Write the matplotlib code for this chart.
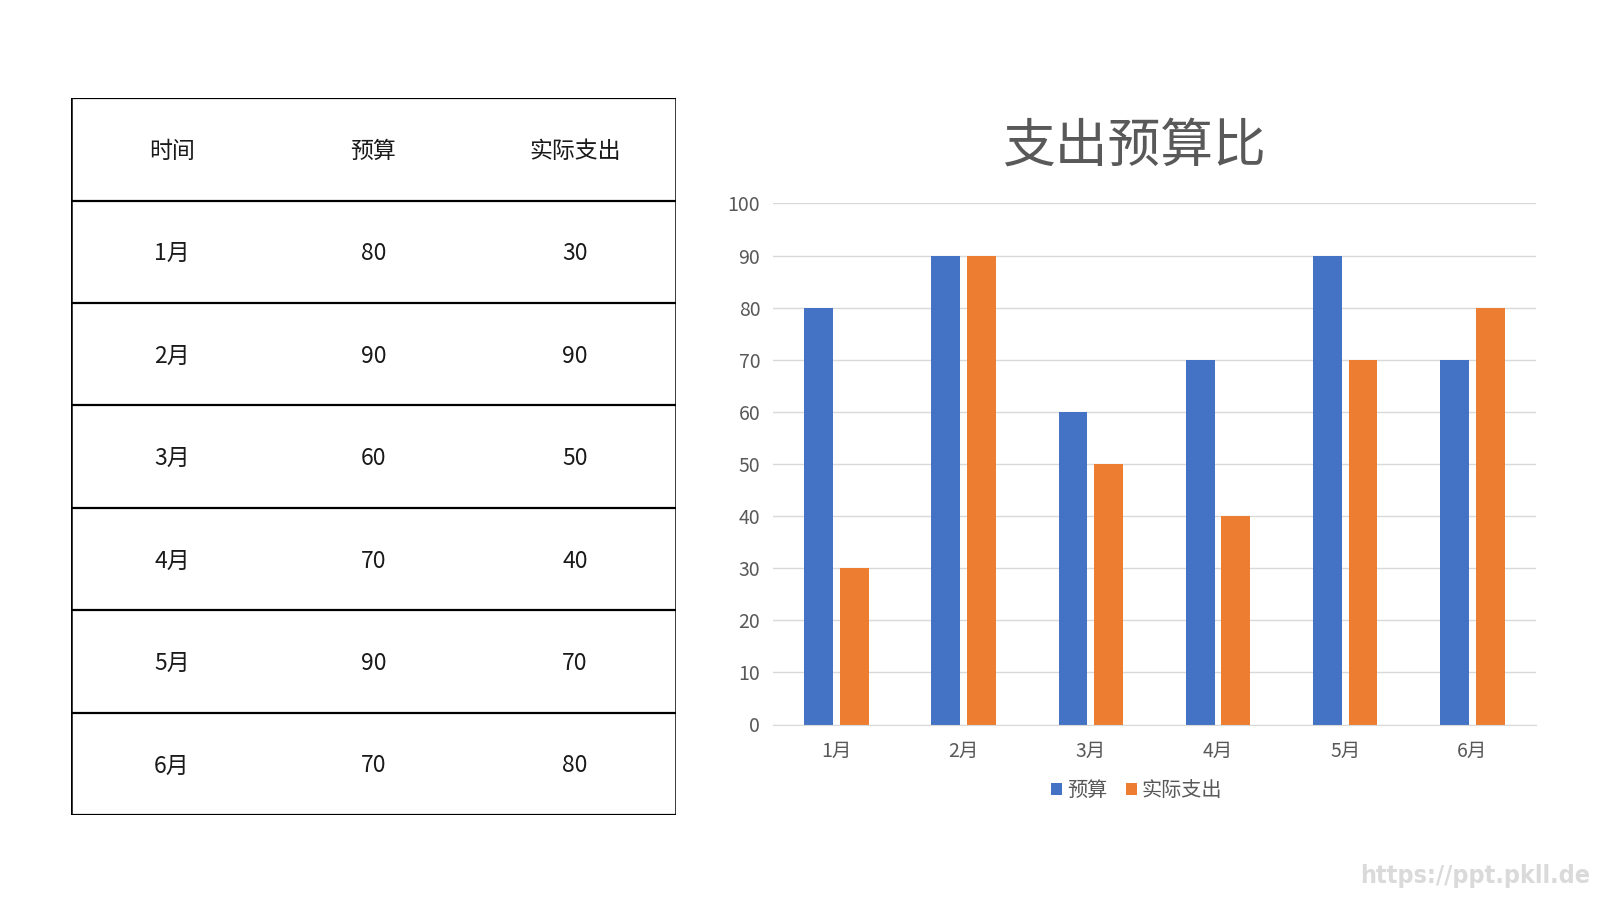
import matplotlib
matplotlib.use("Agg")
import matplotlib.pyplot as plt
import numpy as np

plt.rcParams['font.family'] = ['Noto Sans CJK SC', 'DejaVu Sans']

# data
months = ["1月", "2月", "3月", "4月", "5月", "6月"]
budget = [80, 90, 60, 70, 90, 70]
actual = [30, 90, 50, 40, 70, 80]
headers = ["时间", "预算", "实际支出"]
series_names = ["预算", "实际支出"]
title = "支出预算比"
yticks = [0, 10, 20, 30, 40, 50, 60, 70, 80, 90, 100]

blue = "#4472C4"
orange = "#ED7D31"
grid_color = "#D9D9D9"
label_color = "#595959"

fig = plt.figure(figsize=(16, 9), dpi=100)

# --- table on the left ---
tax = fig.add_axes([0.0444, 0.0944, 0.378, 0.7966])
n_rows = len(months) + 1
tax.set_xlim(0, 3)
tax.set_ylim(n_rows, 0)
tax.axis("off")
for r in range(n_rows + 1):
    tax.plot([0, 3], [r, r], color="black", lw=1.6, solid_capstyle="projecting")
tax.plot([0, 0], [0, n_rows], color="black", lw=1.8, solid_capstyle="projecting")
tax.plot([3, 3], [0, n_rows], color="black", lw=1.8, solid_capstyle="projecting")

for c, h in enumerate(headers):
    tax.text(c + 0.5, 0.52, h, ha="center", va="center", fontsize=16.5, color="#1a1a1a")
for i, m in enumerate(months):
    row = [m, str(budget[i]), str(actual[i])]
    for c, val in enumerate(row):
        tax.text(c + 0.5, i + 1.52, val, ha="center", va="center", fontsize=16.5, color="#1a1a1a")

# --- bar chart on the right ---
ax = fig.add_axes([0.483, 0.195, 0.477, 0.579])
x = np.arange(len(months))
w = 0.225
ax.bar(x - 0.14, budget, w, color=blue, label=series_names[0], zorder=3)
ax.bar(x + 0.14, actual, w, color=orange, label=series_names[1], zorder=3)

ax.set_xlim(-0.5, len(months) - 0.5)
ax.set_ylim(0, 100)
ax.set_yticks(yticks)
ax.set_xticks(x)
ax.set_xticklabels(months)
ax.tick_params(axis="both", length=0, labelsize=14, labelcolor=label_color)
ax.tick_params(axis="y", pad=9)
ax.tick_params(axis="x", pad=12)
ax.yaxis.grid(True, color=grid_color, lw=1, zorder=0)
for s in ["top", "right", "left"]:
    ax.spines[s].set_visible(False)
ax.spines["bottom"].set_color(grid_color)
ax.spines["bottom"].set_zorder(4)

fig.text(0.709, 0.838, title, ha="center", va="center", fontsize=38, color=label_color)

leg = ax.legend(loc="upper center", bbox_to_anchor=(0.477, -0.072), ncol=2, frameon=False,
                fontsize=14.5, handlelength=0.55, handleheight=0.55, handletextpad=0.25,
                columnspacing=0.9)
for t in leg.get_texts():
    t.set_color(label_color)

# watermark
fig.text(0.994, 0.027, "https://ppt.pkll.de", ha="right", va="center", fontsize=18,
         color="#DADADA", fontweight="bold", fontstretch="condensed", family="DejaVu Sans")

fig.savefig("out.png", dpi=100, facecolor="white")
